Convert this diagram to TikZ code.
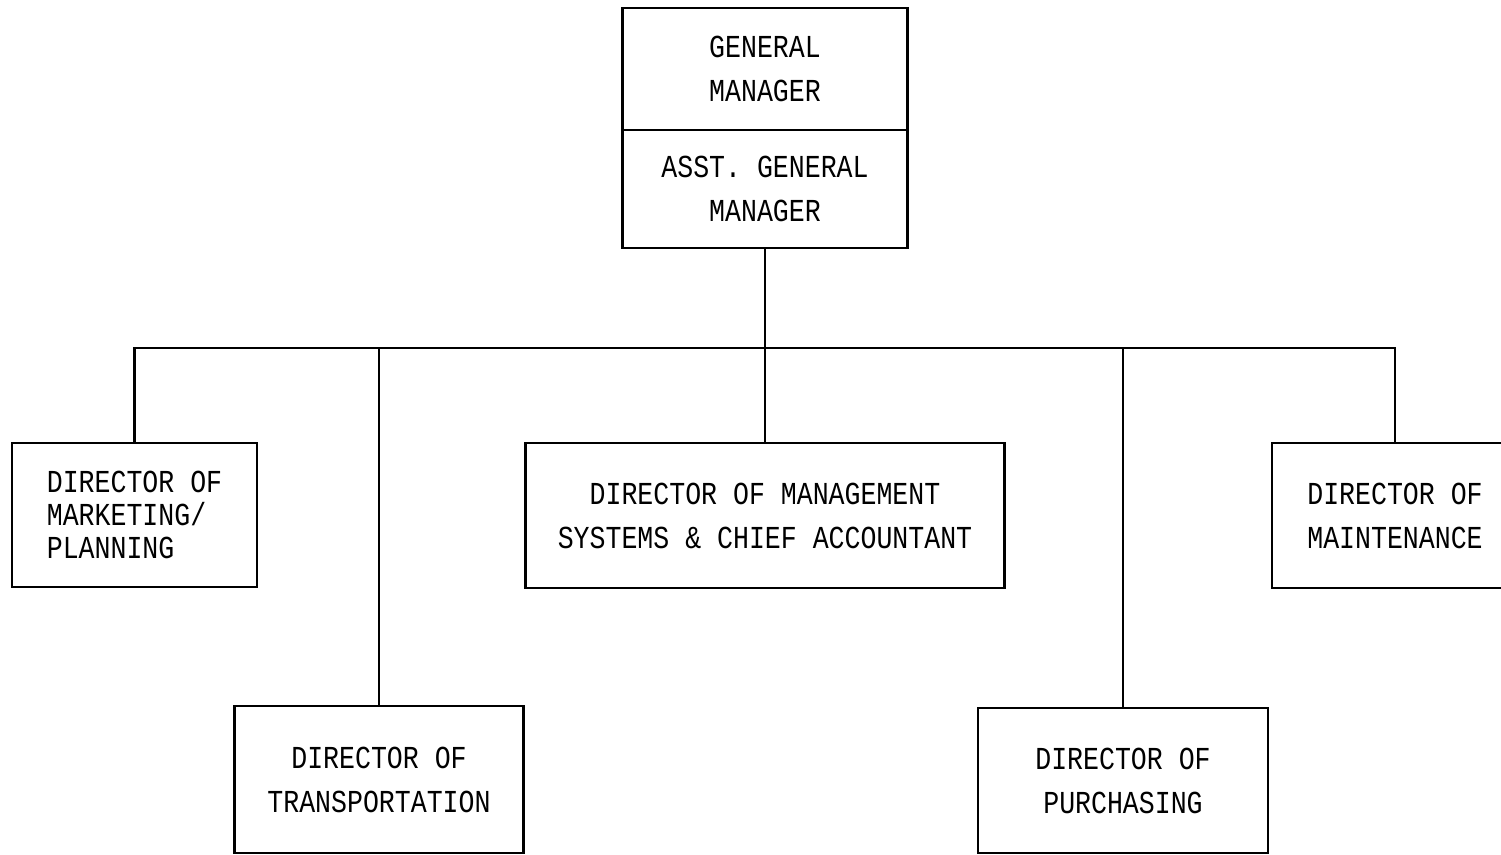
\documentclass[tikz,border=0pt]{standalone}
\usepackage{fontspec}
\setmainfont{Liberation Mono}[FakeStretch=0.83]

\tikzset{
  box/.style={draw, line width=1.4pt, align=center, inner sep=0pt,
    font=\fontsize{16}{22}\selectfont},
  link/.style={line width=1.3pt}
}

\begin{document}
\begin{tikzpicture}[x=0.5pt, y=-0.5pt]

    % Fix the page to the size of the chart
    \useasboundingbox (0,0) rectangle (1501,855);

    % The two stacked boxes at the top
    \node[box, minimum width=142.5pt, minimum height=61pt] (gm) at (765,69) {GENERAL\\MANAGER};
    \node[box, minimum width=142.5pt, minimum height=59pt] (agm) at (765,189) {ASST. GENERAL\\MANAGER};

    % The directors on the upper row
    \node[box, minimum width=122.5pt, minimum height=72pt, align=left,
      font=\fontsize{16}{16.5}\selectfont] (mkt) at (134.5,515) {DIRECTOR OF\\MARKETING/\\PLANNING};
    \node[box, minimum width=239.5pt, minimum height=72.5pt] (mgmt) at (765,515.5)
      {DIRECTOR OF MANAGEMENT\\SYSTEMS \& CHIEF ACCOUNTANT};
    \node[box, minimum width=123pt, minimum height=72.5pt] (mnt) at (1395,515.5) {DIRECTOR OF\\MAINTENANCE};

    % The directors on the lower row
    \node[box, minimum width=144.5pt, minimum height=73.5pt] (trans) at (379,779.5) {DIRECTOR OF\\TRANSPORTATION};
    \node[box, minimum width=145pt, minimum height=72.5pt] (pur) at (1123,780.5) {DIRECTOR OF\\PURCHASING};

    % The bus line that all directors hang from
    \coordinate (bus) at (765,348);

    \draw[link] (agm.south) -- (mgmt.north);
    \draw[link] (mkt.north) |- (bus) -| (mnt.north);
    \draw[link] (trans.north) |- (bus);
    \draw[link] (pur.north) |- (bus);

\end{tikzpicture}
\end{document}
